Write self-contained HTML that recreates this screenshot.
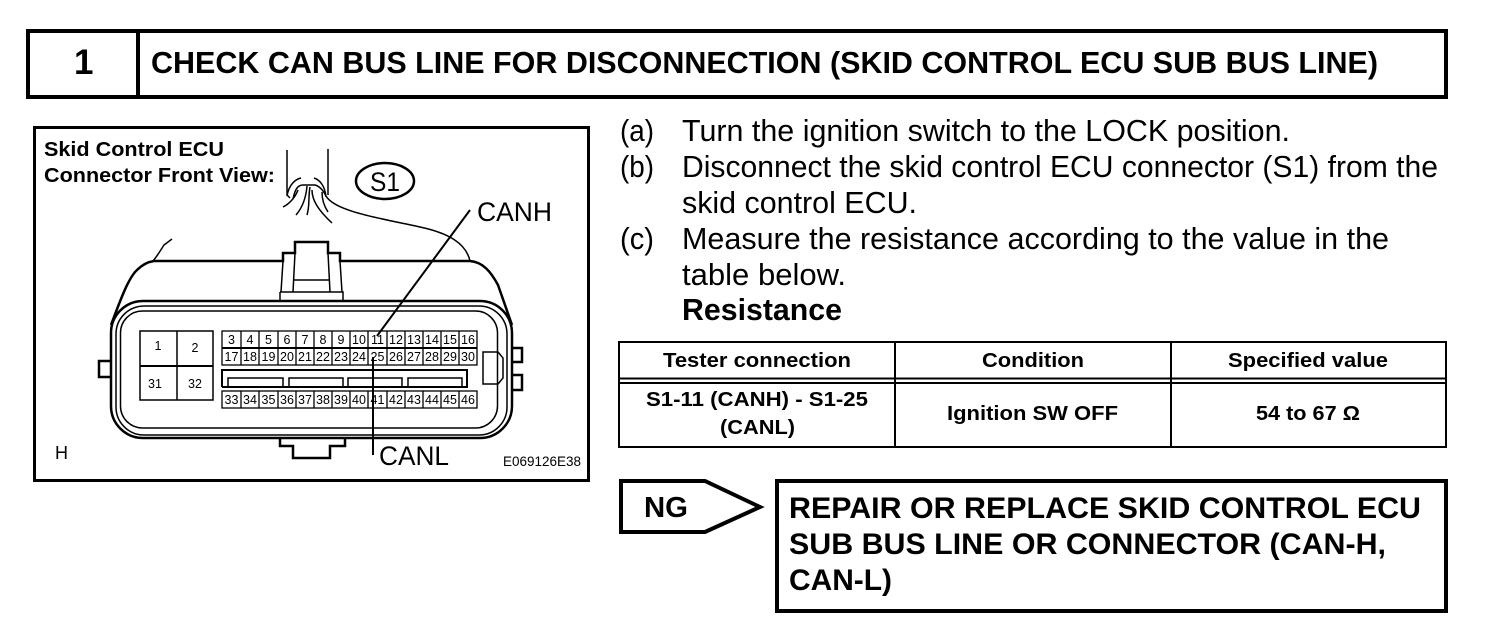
<!DOCTYPE html>
<html><head><meta charset="utf-8"><style>
html,body{margin:0;padding:0;background:#fff}
svg{display:block}
text{font-family:"Liberation Sans",Arial,sans-serif;fill:#000}
.b{font-weight:bold}
.n{font-size:12.5px;text-anchor:middle}
.t{font-size:30.5px}
.h{font-size:20.5px;font-weight:bold}
.s{font-size:30px;font-weight:bold}
</style></head><body>
<svg width="1504" height="638" viewBox="0 0 1504 638" xmlns="http://www.w3.org/2000/svg">
<rect width="1504" height="638" fill="#fff"/>
<!-- header -->
<g fill="none" stroke="#000" stroke-width="4">
<rect x="28" y="31" width="1418" height="66"/>
<line x1="138" y1="31" x2="138" y2="97"/>
</g>
<text x="74" y="74" class="b" font-size="35">1</text>
<text x="151" y="73" class="b" font-size="30.5" textLength="1227" lengthAdjust="spacingAndGlyphs">CHECK CAN BUS LINE FOR DISCONNECTION (SKID CONTROL ECU SUB BUS LINE)</text>

<!-- diagram -->
<rect x="34.500" y="127.500" width="554" height="353" fill="none" stroke="#000" stroke-width="3"/>
<text x="44" y="156" class="b" font-size="20.5" textLength="180" lengthAdjust="spacingAndGlyphs">Skid Control ECU</text>
<text x="44" y="182" class="b" font-size="20.5" textLength="231" lengthAdjust="spacingAndGlyphs">Connector Front View:</text>
<ellipse cx="385" cy="181" rx="29" ry="18" fill="none" stroke="#000" stroke-width="2.500"/>
<text x="370" y="191" font-size="27" textLength="30" lengthAdjust="spacingAndGlyphs">S1</text>
<text x="477" y="221" font-size="27" textLength="75" lengthAdjust="spacingAndGlyphs">CANH</text>
<text x="379" y="465" font-size="27" textLength="70" lengthAdjust="spacingAndGlyphs">CANL</text>
<text x="55" y="459" font-size="18">H</text>
<text x="503" y="466" font-size="14" textLength="78" lengthAdjust="spacingAndGlyphs">E069126E38</text>

<!-- cable -->
<g fill="none" stroke="#000" stroke-width="1.500">
<path d="M287 150V195L290 198M328 149V195"/>
<path d="M287 196C289 184 296 179 301 178M326 197C325 186 320 180 314 178"/>
<path d="M293 199C295 189 298 185 303 185H315C319 186 323 190 326 196C335 212 385 219 420 227C448 233 466 243 470 261"/>
<path d="M283 207C289 204 295 198 298 190M296 215C302 208 306 198 307 186M310 187C308 198 310 205 307 215M312 190C312 200 318 210 332 223M322 192C322 200 324 206 328 212"/>
<path d="M153 261C158 255 162 248 164 245L172 239"/>
</g>

<!-- body outline -->
<g fill="none" stroke="#000">
<path stroke-width="2.500" d="M111 325C119 304 128 278 137 270C142 265 147 262 154 261H283V253H295V242H328V253H340V261H470C483 262 491 272 498 285L512 325"/>
<path stroke-width="1.500" d="M283 261L281 292M295 253L293 292M328 253L330 292M340 261L342 292M293 280H330M280 292H343V301M280 292V301"/>
<rect x="111" y="301" width="401" height="137" rx="32" stroke-width="2.500"/>
<rect x="116" y="306" width="391" height="129" rx="28" stroke-width="1.500"/>
<rect x="120.500" y="311" width="377" height="117" rx="22" stroke-width="1.500"/>
<path stroke-width="2.500" d="M110 361H99V377H110M512 348H522V362H512M512 375H522V390H512M280 438V446H293V458H330V446H345V438"/>
<path stroke-width="1.500" d="M483 352H498L503 358V378L498 384H483Z"/>
</g>

<!-- big pins -->
<g fill="none" stroke="#000" stroke-width="1.500">
<rect x="140" y="331" width="73" height="69"/>
<line x1="177" y1="331" x2="177" y2="400"/>
<line x1="140" y1="366" x2="213" y2="366" stroke-width="2"/>
</g>
<text x="158" y="350" class="n">1</text><text x="195" y="352" class="n">2</text>
<text x="155" y="388" class="n">31</text><text x="195" y="388" class="n">32</text>

<!-- small pins -->
<g fill="none" stroke="#000" stroke-width="1.300">
<rect x="222" y="331" width="255" height="34"/>
<rect x="222" y="391" width="255" height="17"/>
<line x1="222" y1="348" x2="477" y2="348" stroke-width="2"/>
<path d="M241 331V365M259 331V365M278 331V365M296 331V365M314 331V365M332 331V365M350 331V365M368 331V365M387 331V365M405 331V365M423 331V365M441 331V365M459 331V365"/>
<path d="M241 391V408M259 391V408M278 391V408M296 391V408M314 391V408M332 391V408M350 391V408M368 391V408M387 391V408M405 391V408M423 391V408M441 391V408M459 391V408"/>
<path stroke-width="2" d="M222 387V370H467V387H222"/>
<path stroke-width="1.500" d="M228 387V378H283V387M289 387V378H343V387M348 387V378H402V387M408 387V378H462V387"/>
</g>
<g>
<text x="231.500" y="344" class="n">3</text><text x="250" y="344" class="n">4</text><text x="268.500" y="344" class="n">5</text><text x="287" y="344" class="n">6</text><text x="305" y="344" class="n">7</text><text x="323" y="344" class="n">8</text><text x="341" y="344" class="n">9</text><text x="359" y="344" class="n">10</text><text x="377.500" y="344" class="n">11</text><text x="396" y="344" class="n">12</text><text x="414" y="344" class="n">13</text><text x="432" y="344" class="n">14</text><text x="450" y="344" class="n">15</text><text x="468" y="344" class="n">16</text>
<text x="231.500" y="361" class="n">17</text><text x="250" y="361" class="n">18</text><text x="268.500" y="361" class="n">19</text><text x="287" y="361" class="n">20</text><text x="305" y="361" class="n">21</text><text x="323" y="361" class="n">22</text><text x="341" y="361" class="n">23</text><text x="359" y="361" class="n">24</text><text x="377.500" y="361" class="n">25</text><text x="396" y="361" class="n">26</text><text x="414" y="361" class="n">27</text><text x="432" y="361" class="n">28</text><text x="450" y="361" class="n">29</text><text x="468" y="361" class="n">30</text>
<text x="231.500" y="404" class="n">33</text><text x="250" y="404" class="n">34</text><text x="268.500" y="404" class="n">35</text><text x="287" y="404" class="n">36</text><text x="305" y="404" class="n">37</text><text x="323" y="404" class="n">38</text><text x="341" y="404" class="n">39</text><text x="359" y="404" class="n">40</text><text x="377.500" y="404" class="n">41</text><text x="396" y="404" class="n">42</text><text x="414" y="404" class="n">43</text><text x="432" y="404" class="n">44</text><text x="450" y="404" class="n">45</text><text x="468" y="404" class="n">46</text>
</g>
<!-- leaders -->
<g fill="none" stroke="#000" stroke-width="2">
<line x1="470" y1="210" x2="377" y2="336"/>
<line x1="373" y1="357" x2="373" y2="455"/>
</g>

<!-- instructions -->
<text x="620" y="141" class="t" textLength="34" lengthAdjust="spacingAndGlyphs">(a)</text>
<text x="682" y="141" class="t" textLength="608" lengthAdjust="spacingAndGlyphs">Turn the ignition switch to the LOCK position.</text>
<text x="620" y="177" class="t" textLength="34" lengthAdjust="spacingAndGlyphs">(b)</text>
<text x="682" y="177" class="t" textLength="756" lengthAdjust="spacingAndGlyphs">Disconnect the skid control ECU connector (S1) from the</text>
<text x="682" y="213" class="t" textLength="235" lengthAdjust="spacingAndGlyphs">skid control ECU.</text>
<text x="620" y="249" class="t" textLength="34" lengthAdjust="spacingAndGlyphs">(c)</text>
<text x="682" y="249" class="t" textLength="707" lengthAdjust="spacingAndGlyphs">Measure the resistance according to the value in the</text>
<text x="682" y="285" class="t" textLength="164" lengthAdjust="spacingAndGlyphs">table below.</text>
<text x="682" y="320" class="t b" textLength="160" lengthAdjust="spacingAndGlyphs">Resistance</text>

<!-- table -->
<g fill="none" stroke="#000" stroke-width="2">
<rect x="619" y="342" width="827" height="105"/>
<line x1="895" y1="342" x2="895" y2="447"/>
<line x1="1171" y1="342" x2="1171" y2="447"/>
<line x1="619" y1="378.500" x2="1446" y2="378.500"/>
<line x1="619" y1="383" x2="1446" y2="383"/>
</g>
<text x="663" y="367" class="h" textLength="188" lengthAdjust="spacingAndGlyphs">Tester connection</text>
<text x="982" y="367" class="h" textLength="102" lengthAdjust="spacingAndGlyphs">Condition</text>
<text x="1228" y="367" class="h" textLength="160" lengthAdjust="spacingAndGlyphs">Specified value</text>
<text x="646" y="406" class="h" textLength="222" lengthAdjust="spacingAndGlyphs">S1-11 (CANH) - S1-25</text>
<text x="720" y="434" class="h" textLength="75" lengthAdjust="spacingAndGlyphs">(CANL)</text>
<text x="947" y="420" class="h" textLength="171" lengthAdjust="spacingAndGlyphs">Ignition SW OFF</text>
<text x="1256" y="420" class="h" textLength="104" lengthAdjust="spacingAndGlyphs">54 to 67 Ω</text>

<!-- NG -->
<path d="M621 481H705L760 507L705 532H621Z" fill="none" stroke="#000" stroke-width="4"/>
<text x="644" y="517" class="b" font-size="29" textLength="44" lengthAdjust="spacingAndGlyphs">NG</text>
<rect x="777" y="481" width="669" height="130" fill="none" stroke="#000" stroke-width="4"/>
<text x="789" y="518" class="s" textLength="632" lengthAdjust="spacingAndGlyphs">REPAIR OR REPLACE SKID CONTROL ECU</text>
<text x="789" y="554" class="s" textLength="597" lengthAdjust="spacingAndGlyphs">SUB BUS LINE OR CONNECTOR (CAN-H,</text>
<text x="789" y="590" class="s" textLength="103" lengthAdjust="spacingAndGlyphs">CAN-L)</text>
</svg>
</body></html>
